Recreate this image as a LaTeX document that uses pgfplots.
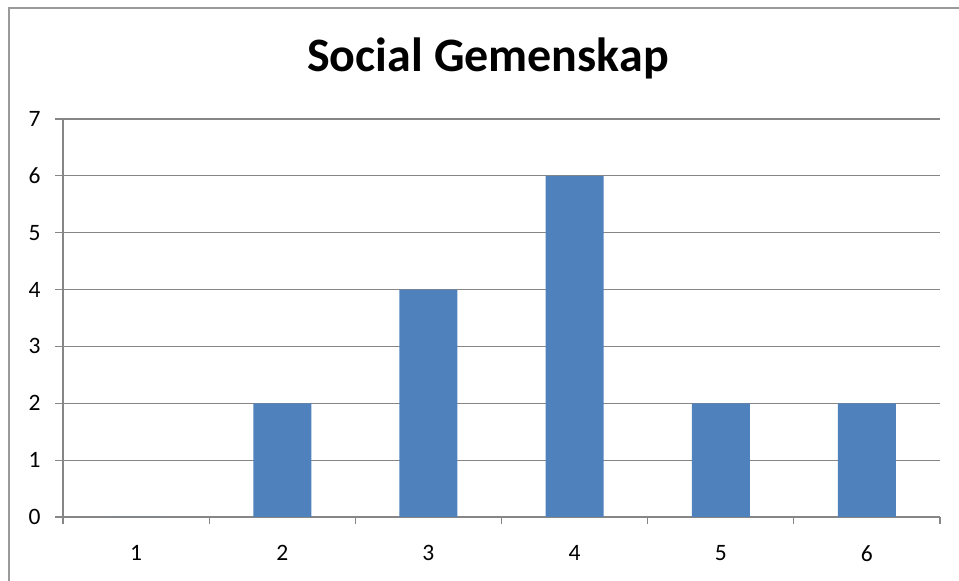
\documentclass[border=0pt]{standalone}
\usepackage{pgfplots}
\pgfplotsset{compat=1.18}
\usepackage{fontspec}
\setmainfont{Carlito}
\definecolor{barblue}{HTML}{4F81BD}
\definecolor{gridgray}{HTML}{868686}
\definecolor{framegray}{HTML}{9A9A9A}
\begin{document}
\begin{tikzpicture}[x=1bp,y=1bp]
\path[use as bounding box] (0,0) rectangle (959,581);
\draw[framegray, line width=2bp] (9,0) -- (9,573) -- (959,573);
\node[anchor=base] at (488,509) {\fontsize{48bp}{48bp}\selectfont\bfseries Social Gemenskap};
\begin{axis}[
  at={(63bp,64bp)}, anchor=south west,
  scale only axis, width=877bp, height=398bp,
  xmin=0.5, xmax=6.5, ymin=0, ymax=7,
  xtick={1,...,6}, ytick={0,...,7},
  minor xtick={0.5,1.5,...,6.5},
  axis x line*=bottom, axis y line*=left,
  axis line style={draw=gridgray, line width=1.2bp, -},
  ymajorgrids, grid style={draw=gridgray, line width=1.2bp},
  tick style={draw=gridgray, line width=1.2bp},
  major x tick style={draw opacity=0},
  tick align=outside,
  major tick length=8bp, minor tick length=7bp,
  /pgf/number format/assume math mode=true,
  ticklabel style={font=\fontsize{23.5bp}{23.5bp}\selectfont},
  yticklabel style={xshift=-11bp},
  xticklabel style={yshift=-17bp},
]
\addplot[ybar, bar width=58bp, fill=barblue, draw=none] coordinates {(1,0) (2,2) (3,4) (4,6) (5,2) (6,2)};
\end{axis}
\end{tikzpicture}
\end{document}
